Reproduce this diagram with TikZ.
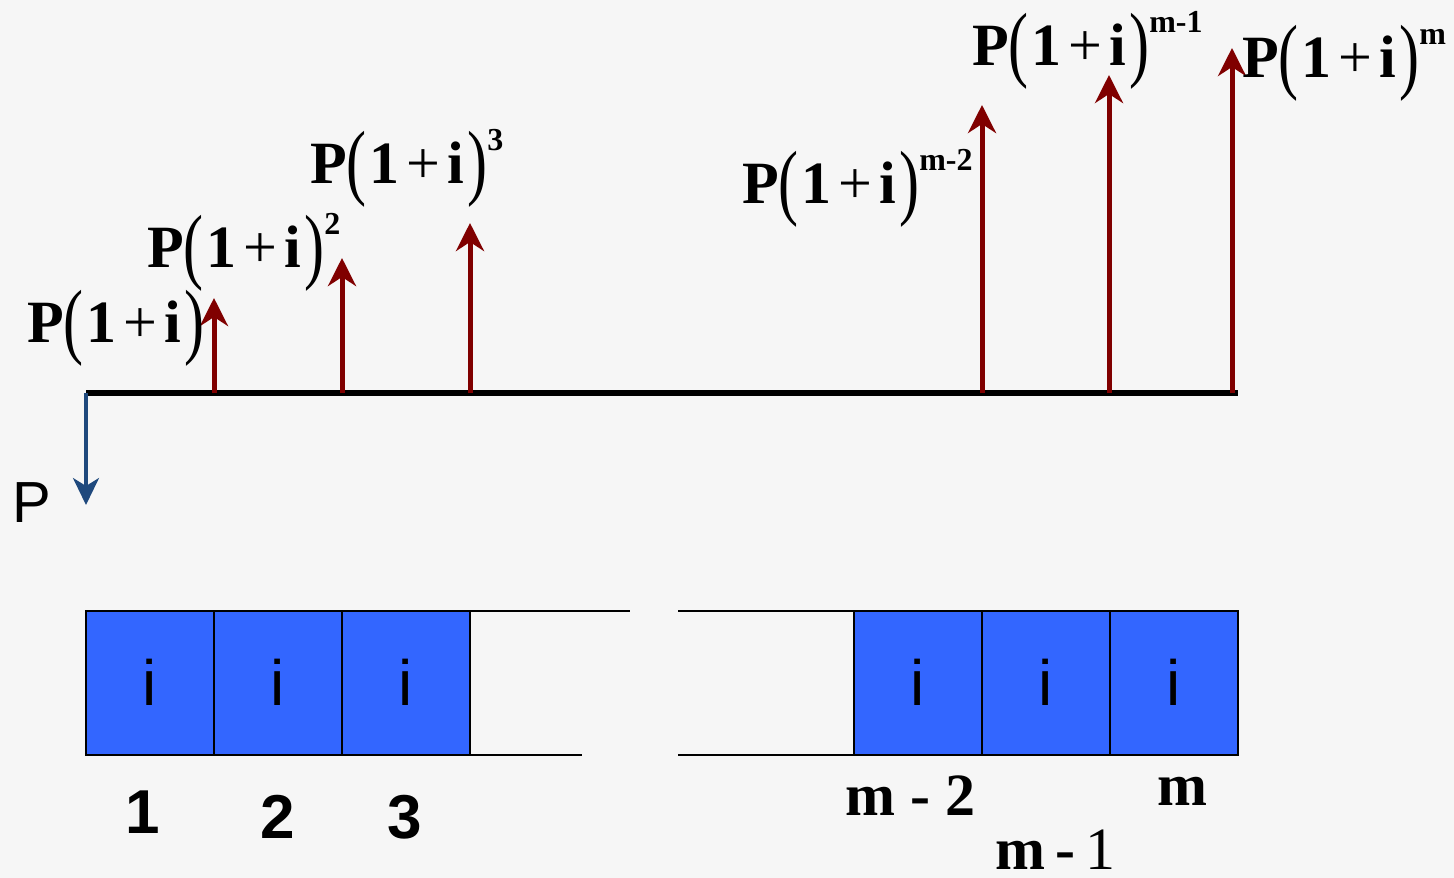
\documentclass[tikz,border=0pt]{standalone}
\usepackage{fontspec,graphicx}
\setmainfont{Liberation Serif}
\setsansfont{Liberation Sans}
\usetikzlibrary{arrows.meta}
\definecolor{cashred}{RGB}{128,0,0}
\definecolor{loanblue}{RGB}{31,73,125}
\definecolor{cellblue}{RGB}{51,102,255}
\definecolor{paper}{RGB}{246,246,246}
\newcommand{\bpar}[1]{\raisebox{-6pt}{\scalebox{1}[1.4]{\mdseries #1}}}
\newcommand{\fv}{\textbf{P}\bpar{(}\hspace{3pt}\textbf{1}\hspace{7pt}+\hspace{7pt}\textbf{i}\hspace{3pt}\bpar{)}}
\newcommand{\fvp}[1]{\fv\raisebox{33pt}{\fontsize{32}{32}\selectfont\textbf{#1}}}
\tikzset{
  cash/.style={draw=cashred, line width=5pt, -{Stealth[length=28pt,width=28pt,inset=9pt]}},
  loan/.style={draw=loanblue, line width=3.5pt, -{Stealth[length=27pt,width=26pt,inset=8pt]}},
  cell/.style={draw, line width=2pt, fill=cellblue, minimum width=128pt, minimum height=144pt,
    inner sep=0, outer sep=0, font=\sffamily\fontsize{64}{72}\selectfont},
  lbl/.style={anchor=base west, inner sep=0, font=\fontsize{60}{72}\selectfont},
  num/.style={anchor=base, inner sep=0, font=\sffamily\bfseries\fontsize{62}{72}\selectfont},
}
\begin{document}
\begin{tikzpicture}[x=1pt,y=-1pt]
\fill[paper] (0,0) rectangle (1454,878);
\useasboundingbox (0,0) rectangle (1454,878);
% time line
\coordinate (t0) at (86,393);
\coordinate (t1) at (214,393);
\coordinate (t2) at (342,393);
\coordinate (t3) at (470,393);
\coordinate (tm2) at (982,393);
\coordinate (tm1) at (1109,393);
\coordinate (tm) at (1232,393);
\coordinate (tend) at (1238,393);
\coordinate (h1) at (214,298);
\coordinate (h2) at (342,258);
\coordinate (h3) at (470,223);
\coordinate (hm2) at (982,105);
\coordinate (hm1) at (1109,75);
\coordinate (hm) at (1232,48);
\coordinate (p0) at (86,505);
\draw[line width=6pt] (t0) -- (tend);
\draw[loan] (t0) -- (p0);
\node[anchor=base west, inner sep=0, font=\sffamily\fontsize{58}{70}\selectfont] (P) at (12,522) {P};
\draw[cash] (t1) -- (h1);
\draw[cash] (t2) -- (h2);
\draw[cash] (t3) -- (h3);
\draw[cash] (tm2) -- (hm2);
\draw[cash] (tm1) -- (hm1);
\draw[cash] (tm) -- (hm);
% future values
\node[lbl] (F1) at (27,342) {\fv};
\node[lbl] (F2) at (147,267) {\fvp{2}};
\node[lbl] (F3) at (310,183) {\fvp{3}};
\node[lbl] (Fm2) at (742,203) {\fvp{m-2}};
\node[lbl] (Fm1) at (972,65) {\fvp{m-1}};
\node[lbl] (Fm) at (1242,77) {\fvp{m}};
% periods
\node[cell] (c1) at (150,682.5) {i};
\node[cell] (c2) at (278,682.5) {i};
\node[cell] (c3) at (406,682.5) {i};
\node[cell] (cm2) at (918,682.5) {i};
\node[cell] (cm1) at (1046,682.5) {i};
\node[cell] (cm) at (1174,682.5) {i};
\coordinate (gt1) at (630,610.5);
\coordinate (gb1) at (582,754.5);
\coordinate (gt2) at (678,610.5);
\coordinate (gb2) at (678,754.5);
\draw[line width=2pt] (c3.north east) -- (gt1);
\draw[line width=2pt] (c3.south east) -- (gb1);
\draw[line width=2pt] (gt2) -- (cm2.north west);
\draw[line width=2pt] (gb2) -- (cm2.south west);
\node[num] (n1) at (143,833) {1};
\node[num] (n2) at (278,838) {2};
\node[num] (n3) at (405,838) {3};
\node[lbl] (nm2) at (845,815) {\textbf{m - 2}};
\node[lbl] (nm1) at (995,869) {\textbf{m\hspace{10pt}-}\hspace{10pt}1};
\node[lbl] (nm) at (1157,805) {\textbf{m}};
\end{tikzpicture}
\end{document}
